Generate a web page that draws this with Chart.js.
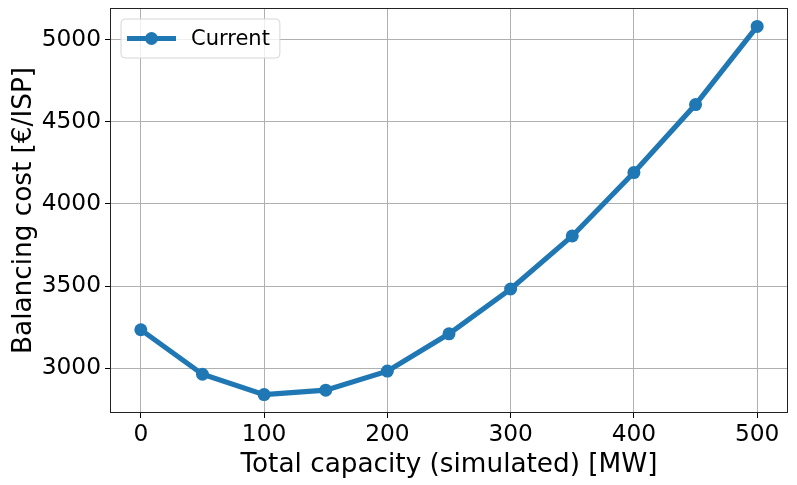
<!DOCTYPE html>
<html>
<head>
<meta charset="utf-8">
<script src="https://cdn.jsdelivr.net/npm/chart.js@4"></script>
<style>
  body { margin: 0; background: #fff; }
  #wrap { width: 797px; height: 485px; }
</style>
</head>
<body>
<div id="wrap"><canvas id="costChart" width="797" height="485"></canvas></div>
<script>
// Data
const capacities = [0, 50, 100, 150, 200, 250, 300, 350, 400, 450, 500];
const balancingCost = [3234, 2963, 2839, 2866, 2982, 3209, 3482, 3805, 4191, 4605, 5081];
const xTickValues = [0, 100, 200, 300, 400, 500];
const yTickValues = [3000, 3500, 4000, 4500, 5000];
const seriesName = 'Current';

const FONT = "'DejaVu Sans', sans-serif";
const BLUE = '#1f77b4';

// frame round the plot area, like matplotlib spines
const framePlugin = {
    id: 'frame',
    afterDraw(chart) {
        const a = chart.chartArea;
        const c = chart.ctx;
        c.save();
        c.strokeStyle = '#222';
        c.lineWidth = 1;
        c.strokeRect(a.left + 0.5, a.top + 0.5, a.right - a.left - 1, a.bottom - a.top - 1);
        c.restore();
    }
};

// legend drawn inside the upper left corner
const insideLegend = {
    id: 'insideLegend',
    afterDraw(chart) {
        const a = chart.chartArea;
        const c = chart.ctx;
        const ds = chart.data.datasets[0];
        c.save();
        c.font = '21px ' + FONT;
        const tw = c.measureText(ds.label).width;
        const x = a.left + 11, y = a.top + 11;
        const w = 72 + tw + 8, h = 39;
        c.beginPath();
        c.roundRect(x, y, w, h, 4);
        c.fillStyle = 'rgba(255,255,255,0.8)';
        c.fill();
        c.strokeStyle = '#d6d6d6';
        c.lineWidth = 1;
        c.stroke();
        const my = y + h / 2;
        c.strokeStyle = ds.borderColor;
        c.lineWidth = 5.2;
        c.beginPath();
        c.moveTo(x + 6, my);
        c.lineTo(x + 55, my);
        c.stroke();
        c.fillStyle = ds.borderColor;
        c.beginPath();
        c.arc(x + 30.5, my, 6.5, 0, Math.PI * 2);
        c.fill();
        c.fillStyle = '#000';
        c.textBaseline = 'middle';
        c.fillText(ds.label, x + 70, my + 1);
        c.restore();
    }
};

const ctx = document.getElementById('costChart').getContext('2d');
new Chart(ctx, {
    type: 'line',
    data: {
        datasets: [{
            label: seriesName,
            data: capacities.map((x, i) => ({ x: x, y: balancingCost[i] })),
            borderColor: BLUE,
            backgroundColor: BLUE,
            borderWidth: 5.2,
            pointRadius: 6.5,
            pointHoverRadius: 6.5,
            pointBorderWidth: 0,
            tension: 0,
            fill: false
        }]
    },
    options: {
        responsive: false,
        animation: false,
        layout: { padding: { top: 8, right: 9, left: 0, bottom: 0 } },
        plugins: {
            legend: { display: false },
            tooltip: { enabled: false }
        },
        scales: {
            x: {
                type: 'linear',
                min: -25,
                max: 525,
                afterBuildTicks: s => { s.ticks = xTickValues.map(v => ({ value: v })); },
                afterFit: s => { s.height = 72; s.paddingLeft = 0; s.paddingRight = 0; },
                border: { display: false },
                grid: { color: '#b0b0b0', lineWidth: 1, tickColor: '#000', tickLength: 5 },
                ticks: { color: '#000', font: { family: FONT, size: 23.3 }, padding: 3, maxRotation: 0 },
                title: {
                    display: true,
                    text: 'Total capacity (simulated) [MW]',
                    color: '#000',
                    font: { family: FONT, size: 26.3 },
                    padding: { top: 0, bottom: 4 }
                }
            },
            y: {
                min: 2727,
                max: 5193,
                afterBuildTicks: s => { s.ticks = yTickValues.map(v => ({ value: v })); },
                afterFit: s => { s.width = 110; s.paddingTop = 0; s.paddingBottom = 0; },
                border: { display: false },
                grid: { color: '#b0b0b0', lineWidth: 1, tickColor: '#000', tickLength: 5 },
                ticks: {
                    color: '#000',
                    font: { family: FONT, size: 23.3 },
                    padding: 4,
                    callback: v => String(v)
                },
                title: {
                    display: true,
                    text: 'Balancing cost [€/ISP]',
                    color: '#000',
                    font: { family: FONT, size: 26.3 },
                    padding: { top: 8, bottom: 0 }
                }
            }
        }
    },
    plugins: [framePlugin, insideLegend]
});
</script>
</body>
</html>
